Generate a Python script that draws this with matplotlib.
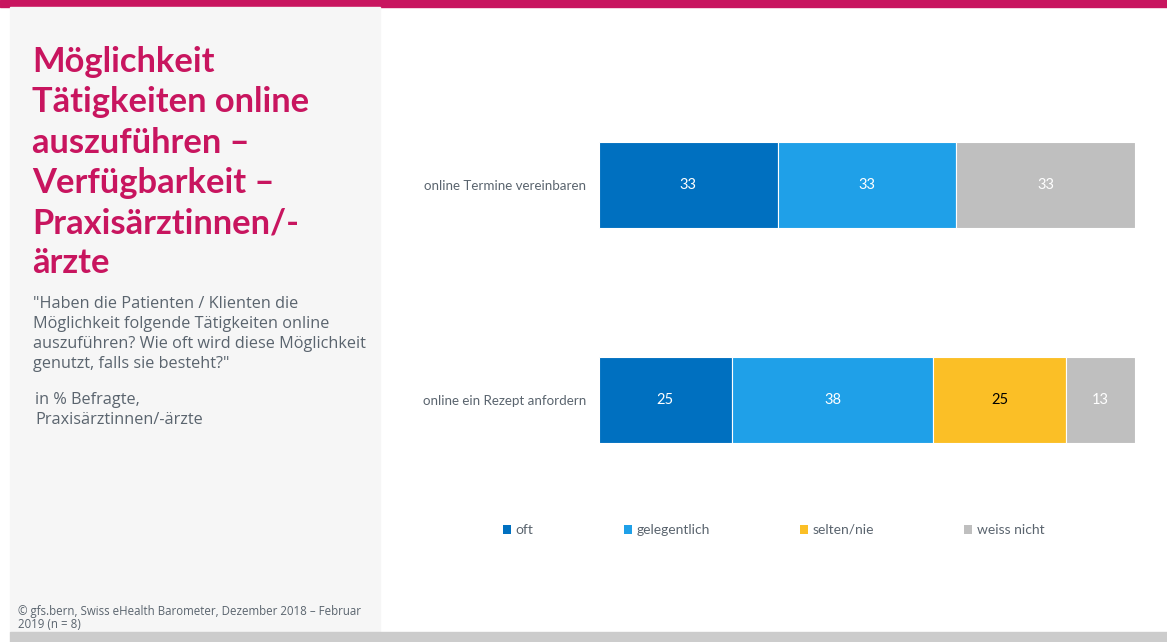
import matplotlib
matplotlib.use('Agg')
import matplotlib.pyplot as plt
from matplotlib.patches import Rectangle, Patch

# data
categories = ["online Termine vereinbaren", "online ein Rezept anfordern"]
series = ["oft", "gelegentlich", "selten/nie", "weiss nicht"]
values = [
    [33, 33, 0, 33],
    [25, 38, 25, 13],
]
colors = ["#0070c0", "#1fa0e8", "#fbbf26", "#bfbfbf"]
label_colors = ["white", "white", "black", "white"]

title = "Möglichkeit\nTätigkeiten online\nauszuführen –\nVerfügbarkeit –\nPraxisärztinnen/-\närzte"
question = ('"Haben die Patienten / Klienten die\nMöglichkeit folgende Tätigkeiten online\n'
            'auszuführen? Wie oft wird diese Möglichkeit\ngenutzt, falls sie besteht?"')
base = "in % Befragte,\nPraxisärztinnen/-ärzte"
source = "© gfs.bern, Swiss eHealth Barometer, Dezember 2018 – Februar\n2019 (n = 8)"

magenta = "#c8155f"
grey_text = "#5a646e"
W, H = 1167, 642

fig = plt.figure(figsize=(W / 100, H / 100), dpi=100)
fig.patch.set_facecolor("white")

# background pieces
fig.patches.append(Rectangle((0, 1 - 7 / H), 1, 7 / H, transform=fig.transFigure,
                             color=magenta, zorder=0))
fig.patches.append(Rectangle((10 / W, 10 / H), 370 / W, 1 - 17 / H, transform=fig.transFigure,
                             color="#f6f6f6", zorder=0))
fig.patches.append(Rectangle((10 / W, 0), 1, 10 / H, transform=fig.transFigure,
                             color="#cccccc", zorder=0))

fig.text(32 / W, 1 - 46 / H, title, fontsize=24.8, fontweight="bold", color=magenta,
         family="Lato", va="top", ha="left", linespacing=1.318)
fig.text(33 / W, 1 - 296 / H, question, fontsize=11.7, color=grey_text,
         family="Open Sans", va="top", ha="left", linespacing=1.335)
fig.text(35 / W, 1 - 392 / H, base, fontsize=11.7, color=grey_text,
         family="Open Sans", va="top", ha="left", linespacing=1.335)
fig.text(18 / W, 1 - 605 / H, source, fontsize=8.3, color=grey_text,
         family="Open Sans", va="top", ha="left", linespacing=1.05)

# bars
ax = fig.add_axes([599 / W, (H - 443) / H, 536 / W, 301 / H])
ypos = list(range(len(categories)))
for i, row in enumerate(values):
    total = sum(row)
    left = 0
    for j, v in enumerate(row):
        if v == 0:
            continue
        w = v / total * 100
        ax.barh(i, w, left=left, height=0.4, color=colors[j], edgecolor="white", linewidth=0.8)
        ax.text(left + w / 2, i, str(v), ha="center", va="center", fontsize=10.5,
                color=label_colors[j], family="Lato")
        left += w

ax.set_xlim(0, 100)
ax.set_ylim(1.2, -0.2)
ax.set_yticks(ypos)
ax.set_yticklabels(categories, fontsize=9.6, color=grey_text, family="Lato")
ax.tick_params(axis="y", length=0, pad=9)
ax.set_xticks([])
for s in ax.spines.values():
    s.set_visible(False)

handles = [Patch(facecolor=c, edgecolor="none") for c in colors]
leg = fig.legend(handles, series, loc="center left", bbox_to_anchor=(503 / W, 1 - 530 / H),
                 ncol=4, frameon=False, handlelength=0.6, handleheight=0.6,
                 handletextpad=0.3, columnspacing=6.5, borderaxespad=0, borderpad=0,
                 prop={"family": "Lato", "size": 10})
for t in leg.get_texts():
    t.set_color(grey_text)

fig.savefig("out.png", dpi=100)
